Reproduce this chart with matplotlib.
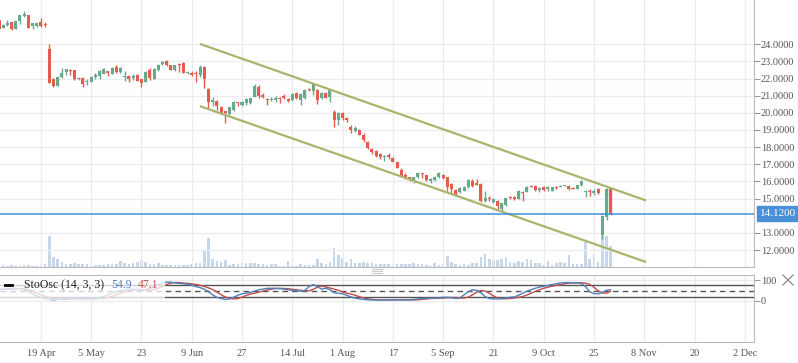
import numpy as np
import matplotlib.pyplot as plt
from matplotlib.lines import Line2D
from matplotlib.patches import Rectangle

# ---- data (daily bars, index 0 = 19 Apr) ----
first_bar = -10

opens = [25.40, 24.97, 25.11, 25.28, 24.87, 25.36, 25.63, 25.71, 25.05, 25.05,
         25.28, 25.16, 23.73, 22.00, 21.57, 22.08, 22.37, 22.50, 22.50, 21.96,
         22.06, 21.77, 21.82, 22.10, 22.15, 22.29, 22.43, 22.25, 22.68, 22.39,
         22.11, 22.15, 22.06, 22.23, 21.96, 21.82, 22.50, 21.98, 22.50, 22.85,
         23.04, 22.77, 22.50, 22.85, 22.93, 22.31, 22.35, 22.35, 22.19, 22.70,
         21.41, 20.65, 20.71, 20.36, 20.09, 19.94, 20.17, 20.62, 20.46, 20.60,
         20.56, 20.95, 21.53, 21.04, 20.83, 20.75, 20.75, 20.89, 20.98, 20.83,
         20.75, 21.14, 20.75, 20.85, 21.41, 21.30, 21.33, 20.85, 21.14, 20.95,
         20.05, 19.59, 20.01, 19.68, 19.15, 18.96, 18.98, 18.72, 18.30, 17.88,
         17.78, 17.60, 17.41, 17.54, 17.39, 17.12, 16.67, 16.38, 16.24, 16.03,
         16.24, 16.52, 16.36, 16.03, 16.09, 16.24, 16.40, 16.24, 15.85, 15.52,
         15.41, 15.46, 15.66, 16.03, 15.93, 15.85, 14.86, 15.04, 14.82, 14.86,
         14.40, 14.63, 15.08, 15.08, 14.98, 15.41, 15.41, 15.76, 15.74, 15.50,
         15.66, 15.54, 15.46, 15.66, 15.70, 15.74, 15.74, 15.64, 15.56, 15.80,
         15.41, 15.46, 15.35, 15.54, 12.88, 13.95, 15.54]
highs = [25.50, 25.16, 25.44, 25.32, 25.34, 25.69, 25.92, 25.73, 25.26, 25.24,
         25.51, 25.30, 24.04, 22.04, 22.15, 22.62, 22.58, 22.56, 22.52, 22.11,
         22.11, 21.96, 22.15, 22.31, 22.50, 22.60, 22.46, 22.66, 22.80, 22.70,
         22.45, 22.19, 22.27, 22.29, 22.00, 22.46, 22.60, 22.60, 22.85, 23.04,
         23.08, 22.80, 22.79, 22.93, 22.99, 22.42, 22.42, 22.43, 22.77, 22.76,
         21.45, 20.95, 20.75, 20.38, 20.13, 20.35, 20.69, 20.66, 20.70, 20.89,
         20.89, 21.67, 21.63, 21.14, 20.89, 20.95, 20.99, 20.95, 21.10, 20.87,
         21.14, 21.20, 21.14, 21.41, 21.47, 21.73, 21.39, 21.20, 21.20, 21.40,
         20.15, 20.07, 20.07, 19.78, 19.28, 19.22, 19.04, 18.80, 18.36, 17.97,
         17.84, 17.68, 17.54, 17.68, 17.41, 17.14, 16.77, 16.48, 16.26, 16.28,
         16.55, 16.52, 16.38, 16.18, 16.32, 16.54, 16.46, 16.26, 15.89, 15.56,
         15.66, 15.76, 16.12, 16.12, 16.12, 15.89, 15.45, 15.16, 15.02, 14.92,
         14.77, 15.02, 15.16, 15.16, 15.50, 15.46, 15.72, 15.78, 15.80, 15.66,
         15.74, 15.74, 15.70, 15.74, 15.82, 15.82, 15.78, 15.66, 15.82, 16.09,
         15.48, 15.54, 15.54, 15.60, 14.05, 15.60, 15.56]
lows = [24.82, 24.93, 25.05, 24.84, 24.87, 25.16, 25.59, 24.93, 24.91, 25.00,
        25.01, 25.01, 21.76, 21.53, 21.57, 22.04, 22.23, 22.19, 21.92, 21.92,
        21.49, 21.61, 21.78, 22.00, 22.00, 22.25, 22.13, 22.25, 22.31, 22.35,
        21.88, 21.82, 21.92, 21.88, 21.53, 21.80, 21.92, 21.96, 22.46, 22.79,
        22.75, 22.50, 22.46, 22.41, 22.35, 22.25, 22.13, 21.82, 22.11, 21.47,
        20.27, 20.40, 20.17, 19.92, 19.39, 19.85, 20.12, 20.40, 20.40, 20.46,
        20.52, 20.90, 20.85, 20.85, 20.46, 20.71, 20.65, 20.56, 20.81, 20.66,
        20.71, 20.79, 20.46, 20.79, 21.30, 21.05, 20.50, 20.79, 20.85, 20.65,
        19.15, 19.30, 19.59, 19.49, 18.81, 18.90, 18.68, 18.30, 17.88, 17.60,
        17.45, 17.31, 17.22, 17.31, 17.12, 16.79, 16.24, 16.13, 16.05, 15.93,
        16.19, 16.19, 16.01, 15.89, 16.05, 16.19, 16.15, 15.46, 15.27, 15.17,
        15.35, 15.42, 15.62, 15.70, 15.80, 14.78, 14.82, 14.86, 14.73, 14.34,
        14.30, 14.57, 14.96, 14.92, 14.98, 14.88, 15.39, 15.70, 15.46, 15.41,
        15.46, 15.46, 15.44, 15.54, 15.66, 15.72, 15.50, 15.56, 15.54, 15.74,
        15.08, 15.16, 15.21, 15.27, 12.63, 13.76, 14.05]
closes = [24.86, 25.12, 25.26, 24.87, 25.34, 25.69, 25.75, 24.95, 25.21, 25.21,
          25.05, 25.12, 21.76, 21.57, 22.11, 22.35, 22.56, 22.43, 21.96, 22.06,
          21.71, 21.86, 22.11, 22.23, 22.43, 22.54, 22.35, 22.60, 22.41, 22.60,
          22.15, 22.00, 22.13, 21.88, 21.76, 22.41, 22.05, 22.54, 22.77, 22.96,
          22.79, 22.50, 22.77, 22.79, 22.35, 22.38, 22.21, 22.27, 22.66, 21.96,
          20.66, 20.75, 20.40, 19.97, 19.97, 20.33, 20.65, 20.56, 20.65, 20.79,
          20.85, 21.59, 21.01, 20.95, 20.75, 20.83, 20.89, 20.79, 20.87, 20.71,
          21.08, 20.85, 21.08, 21.33, 21.33, 21.67, 20.75, 21.14, 20.89, 21.33,
          19.59, 20.01, 19.68, 19.59, 18.97, 19.14, 18.73, 18.40, 17.97, 17.70,
          17.51, 17.41, 17.49, 17.41, 17.14, 16.81, 16.34, 16.24, 16.07, 16.24,
          16.48, 16.44, 16.09, 16.13, 16.28, 16.48, 16.19, 15.66, 15.54, 15.25,
          15.60, 15.70, 16.09, 15.76, 15.80, 14.86, 15.02, 14.96, 14.96, 14.59,
          14.73, 15.02, 15.02, 15.00, 15.46, 15.35, 15.70, 15.70, 15.50, 15.60,
          15.50, 15.70, 15.66, 15.60, 15.76, 15.80, 15.56, 15.56, 15.80, 16.05,
          15.46, 15.37, 15.46, 15.35, 13.99, 15.54, 14.12]
volumes = [6, 6, 4, 6, 4, 4, 7, 7, 4, 4,
           7, 10, 94, 31, 25, 16, 10, 10, 13, 10,
           10, 10, 4, 7, 7, 7, 10, 10, 10, 19,
           13, 10, 13, 16, 22, 16, 10, 10, 13, 7,
           7, 7, 7, 7, 7, 7, 10, 13, 13, 49,
           88, 25, 19, 16, 22, 7, 10, 10, 13, 13,
           13, 13, 10, 10, 7, 10, 10, 4, 4, 19,
           4, 4, 10, 7, 7, 7, 25, 13, 10, 16,
           58, 37, 28, 16, 25, 13, 13, 16, 13, 13,
           10, 10, 10, 10, 7, 10, 10, 10, 10, 13,
           10, 10, 7, 4, 13, 7, 10, 34, 16, 10,
           7, 10, 7, 13, 13, 31, 40, 25, 22, 22,
           25, 31, 16, 13, 19, 16, 25, 22, 13, 13,
           7, 19, 7, 13, 16, 13, 37, 10, 10, 10,
           76, 25, 36, 16, 95, 93, 63]

# stochastic oscillator (14, 3, 3)
sto_k = [58, 58, 60, 58, 60, 62, 55, 45, 35, 25,
         18, 12, 8, 6, 8, 10, 12, 12, 12, 10,
         10, 10, 12, 12, 15, 22, 30, 38, 45, 50,
         55, 58, 58, 55, 50, 55, 62, 70, 80, 88,
         92, 92, 88, 86, 84, 82, 78, 70, 65, 58,
         45, 30, 18, 12, 8, 10, 18, 28, 35, 38,
         42, 48, 55, 58, 62, 62, 62, 60, 58, 55,
         52, 50, 48, 52, 70, 80, 70, 58, 62, 55,
         40, 38, 35, 28, 20, 14, 10, 8, 6, 5,
         5, 4, 5, 5, 6, 6, 5, 5, 6, 8,
         10, 12, 13, 13, 14, 16, 18, 18, 16, 12,
         15, 30, 45, 55, 52, 40, 22, 12, 10, 10,
         12, 15, 18, 20, 28, 38, 48, 55, 62, 68,
         72, 76, 80, 84, 88, 90, 90, 88, 88, 86,
         70, 45, 36, 35, 42, 52, 54.9]
sto_d = [56, 57, 58, 59, 59, 60, 59, 55, 48, 40,
         30, 22, 16, 12, 9, 8, 8, 10, 11, 12,
         11, 11, 10, 11, 11, 13, 17, 22, 30, 38,
         44, 50, 54, 57, 57, 54, 53, 56, 62, 71,
         80, 87, 90, 90, 88, 86, 84, 81, 77, 71,
         64, 56, 44, 31, 20, 13, 10, 12, 19, 27,
         34, 38, 43, 48, 54, 58, 61, 62, 61, 60,
         57, 55, 52, 50, 50, 57, 67, 73, 69, 63,
         58, 52, 44, 38, 34, 28, 21, 15, 11, 8,
         6, 5, 5, 5, 5, 5, 6, 6, 5, 5,
         6, 8, 10, 12, 13, 13, 14, 16, 17, 17,
         15, 14, 19, 30, 43, 51, 49, 38, 25, 15,
         11, 11, 12, 15, 18, 22, 29, 38, 47, 55,
         62, 67, 72, 76, 80, 84, 87, 89, 89, 89,
         87, 81, 67, 50, 39, 38, 47.1]

# descending channel anchors (bar index, price)
channel_x = [38.2, 144.2]
channel_upper = [24.00, 14.91]
channel_lower = [20.37, 11.32]
last_price = 14.12

date_labels = ['19 Apr', '5 May', '23', '9 Jun', '27', '14 Jul', '1 Aug', '17',
               '5 Sep', '21', '9 Oct', '25', '8 Nov', '20', '2 Dec']
price_ticks = [12, 13, 15, 16, 17, 18, 19, 20, 21, 22, 23, 24]

# ---- styling ----
GREEN = '#68a88c'
RED = '#e55b4d'
GRID = '#ececec'
TXT = '#555555'
plt.rcParams['font.family'] = ['Liberation Serif', 'DejaVu Serif']

W, H = 798, 363
fig = plt.figure(figsize=(W / 100, H / 100), dpi=100)

ax = fig.add_axes([0, 1 - 267 / H, 754 / W, 267 / H])
axv = ax.twinx()
axv.set_zorder(ax.get_zorder() - 1)
ax.patch.set_visible(False)
axo = fig.add_axes([0, 1 - 342 / H, 754 / W, 67 / H])

o = np.array(opens)
h = np.array(highs)
l = np.array(lows)
c = np.array(closes)
x = np.arange(len(c)) + first_bar
up = c >= o
cols = np.where(up, GREEN, RED)
xticks = np.arange(len(date_labels)) * 12
xlim = (-9.76, 170.2)

# volume
axv.bar(x, volumes, width=0.62, color='#c9d7ea', zorder=1)
axv.set_ylim(0, 94 * 267 / 31)
axv.set_xlim(*xlim)
axv.set_yticks([])
for s in axv.spines.values():
    s.set_visible(False)

# price panel
ax.set_xlim(*xlim)
ax.set_ylim(11.01, 26.58)
ax.vlines(x, l, h, colors=cols, lw=1, zorder=3)
body = np.maximum(np.abs(c - o), 0.05)
ax.bar(x, body, bottom=np.minimum(o, c), width=0.72, color=cols, zorder=4)
ax.plot(channel_x, channel_upper, color='#a8b56c', lw=1.6, zorder=5)
ax.plot(channel_x, channel_lower, color='#a8b56c', lw=1.6, zorder=5)
ax.axhline(last_price, color='#3f8fdd', lw=1.1, zorder=6)

ax.set_xticks(xticks)
ax.set_yticks(price_ticks)
ax.set_yticklabels([f'{v:.4f}' for v in price_ticks])
ax.yaxis.tick_right()
ax.tick_params(axis='x', length=0, labelbottom=False)
ax.tick_params(axis='y', direction='out', length=4, width=0.8, color='#999999',
               labelsize=7.5, labelcolor=TXT, pad=1)
ax.grid(True, color=GRID, lw=1, zorder=0)
ax.set_axisbelow(True)
for side in ['top', 'left']:
    ax.spines[side].set_visible(False)
for side in ['right', 'bottom']:
    ax.spines[side].set_color('#bbbbbb')

ax.annotate(f'{last_price:.4f}', xy=(1.0, last_price), xycoords=('axes fraction', 'data'),
            xytext=(4, 0), textcoords='offset points', ha='left', va='center',
            fontsize=8, color='white', annotation_clip=False,
            bbox=dict(boxstyle='square,pad=0.25', fc='#4a90d9', ec='#4a90d9'))

# oscillator panel
axo.set_xlim(*xlim)
axo.set_ylim(-200, 126.8)
axo.plot(x, sto_d, color='#c0504d', lw=1, zorder=3)
axo.plot(x, sto_k, color='#4f81bd', lw=1, zorder=3)
axo.axhline(80, color='#555555', lw=1, zorder=2)
axo.axhline(20, color='#555555', lw=1, zorder=2)
axo.axhline(50, color='#555555', lw=1, ls=(0, (4, 3)), zorder=2)
axo.set_xticks(xticks)
axo.set_xticklabels(date_labels)
axo.set_yticks([0, 100])
axo.yaxis.tick_right()
axo.tick_params(axis='x', length=0, labelsize=7.5, labelcolor=TXT, pad=5)
axo.tick_params(axis='y', direction='out', length=4, width=0.8, color='#999999',
                labelsize=7.5, labelcolor=TXT, pad=1)
axo.grid(True, color=GRID, lw=1, zorder=0)
axo.set_axisbelow(True)
axo.spines['left'].set_visible(False)
for side in ['top', 'right', 'bottom']:
    axo.spines[side].set_color('#bbbbbb')

# legend box
axo.add_patch(Rectangle((0, 0.63), 165 / 754, 0.35, transform=axo.transAxes,
                        fc='white', ec='none', alpha=0.75, zorder=4))
axo.add_line(Line2D([5 / 754, 12 / 754], [0.85, 0.85], transform=axo.transAxes,
                    color='black', lw=2, zorder=5))
axo.text(24 / 754, 0.85, 'StoOsc (14, 3, 3)', transform=axo.transAxes,
         fontsize=8.5, color='#222222', va='center', zorder=5)
axo.text(111 / 754, 0.85, f'{sto_k[-1]:.1f}', transform=axo.transAxes,
         fontsize=8.5, color='#4f81bd', va='center', zorder=5)
axo.text(138 / 754, 0.85, f'{sto_d[-1]:.1f}', transform=axo.transAxes,
         fontsize=8.5, color='#c0504d', va='center', zorder=5)

# panel grip and close icon
for dy in (268.5, 270.5, 272.5):
    fig.add_artist(Line2D([372 / W, 382 / W], [1 - dy / H, 1 - dy / H], color='#cccccc', lw=0.8))
fig.add_artist(Line2D([783 / W, 793 / W], [1 - 275 / H, 1 - 285 / H], color='#888888', lw=0.9))
fig.add_artist(Line2D([783 / W, 793 / W], [1 - 285 / H, 1 - 275 / H], color='#888888', lw=0.9))

fig.savefig('out.png', dpi=100)
